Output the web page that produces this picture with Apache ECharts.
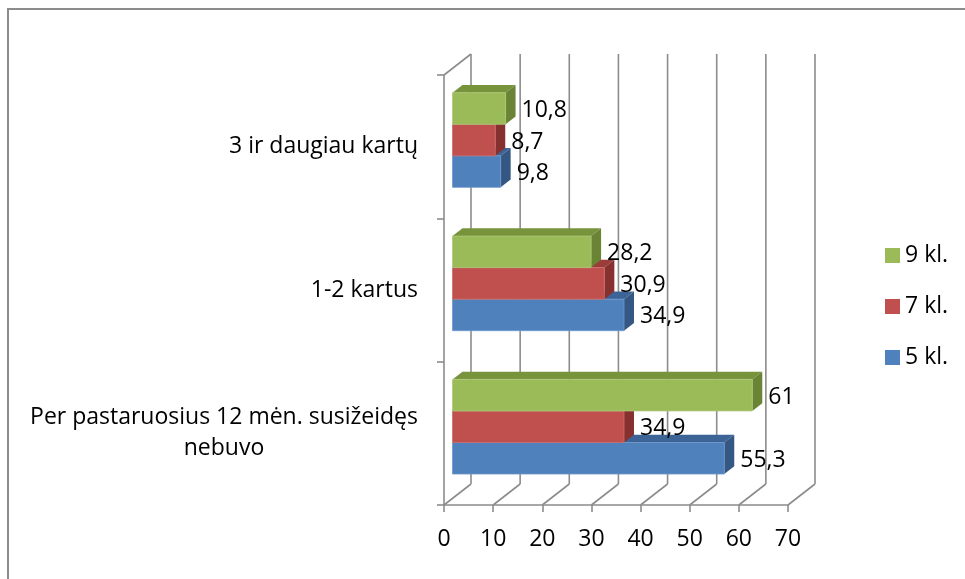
<!DOCTYPE html>
<html>
<head>
<meta charset="utf-8">
<title>Susižeidimai per pastaruosius 12 mėn.</title>
<script src="https://cdn.jsdelivr.net/npm/echarts@6/dist/echarts.min.js"></script>
<style>
  html, body { margin: 0; padding: 0; background: #fff; }
  #chart { width: 965px; height: 579px; }
</style>
</head>
<body>
<div id="chart"></div>
<script>
// Categories, bottom to top on the vertical axis
var categories = [
  'Per pastaruosius 12 mėn. susižeidęs\nnebuvo',
  '1-2 kartus',
  '3 ir daugiau kartų'
];
// Shares (%) per grade, in category order
var grade5 = [55.3, 34.9, 9.8];
var grade7 = [34.9, 30.9, 8.7];
var grade9 = [61, 28.2, 10.8];
var seriesNames = ['5 kl.', '7 kl.', '9 kl.'];
var xTicks = [0, 10, 20, 30, 40, 50, 60, 70];

// Pseudo-3D look: depth of the box walls in pixels, and where the bars sit in it
var DEPTH_X = 27, DEPTH_Y = -21;
var BAR_DEPTH = 0.37;        // bar thickness as share of the box depth
var BAR_OFFSET = 0.315;      // bar front plane as share of the box depth
var BAR_SHARE = 0.22;        // bar height as share of the category band
var WALL_COLOR = '#8c8c8c';
var WALL_WIDTH = 1.6;
var FONT = '"Open Sans", "Noto Sans", sans-serif';
var FONT_SIZE = 23;

var palettes = {
  '5 kl.': { front: '#4F81BD', top: '#3C6496', side: '#345783', edge: '#6f97c9' },
  '7 kl.': { front: '#C0504D', top: '#9A3D3A', side: '#863130', edge: '#cc6f6c' },
  '9 kl.': { front: '#9BBB59', top: '#77933C', side: '#6A8436', edge: '#afc97a' }
};

function fmt(v) {
  return String(v).replace('.', ',');
}

function barRenderer(slot, pal) {
  return function (params, api) {
    var val = api.value(0);
    var cat = api.value(1);
    var base = api.coord([0, cat]);
    var end = api.coord([val, cat]);
    var band = api.size([0, 1])[1];
    var th = band * BAR_SHARE;
    var dx = DEPTH_X * BAR_DEPTH, dy = DEPTH_Y * BAR_DEPTH;
    var ox = DEPTH_X * BAR_OFFSET, oy = DEPTH_Y * BAR_OFFSET;
    var yc = base[1] + slot * th + oy;
    var x0 = base[0] + ox, x1 = end[0] + ox;
    var yt = yc - th / 2, yb = yc + th / 2;
    return {
      type: 'group',
      children: [
        {
          type: 'polygon',
          shape: { points: [[x0, yt], [x1, yt], [x1 + dx, yt + dy], [x0 + dx, yt + dy]] },
          style: { fill: pal.top }
        },
        {
          type: 'polygon',
          shape: { points: [[x1, yt], [x1 + dx, yt + dy], [x1 + dx, yb + dy], [x1, yb]] },
          style: { fill: pal.side }
        },
        {
          type: 'rect',
          shape: { x: x0, y: yt, width: x1 - x0, height: th },
          style: { fill: pal.front, stroke: pal.edge, lineWidth: 0.8 }
        },
        {
          type: 'text',
          style: {
            text: fmt(val),
            x: x1 + dx + 6,
            y: yc + 2,
            fill: '#000',
            font: FONT_SIZE + 'px ' + FONT,
            align: 'left',
            verticalAlign: 'middle'
          }
        }
      ]
    };
  };
}

function wallRenderer(params, api) {
  var v = api.value(0);
  var cs = params.coordSys;
  var xf = api.coord([v, 0])[0];
  var yBottom = cs.y + cs.height;
  var yTop = cs.y;
  var ls = { stroke: WALL_COLOR, lineWidth: WALL_WIDTH };
  var children = [
    { type: 'line', shape: { x1: xf, y1: yBottom, x2: xf + DEPTH_X, y2: yBottom + DEPTH_Y }, style: ls },
    { type: 'line', shape: { x1: xf + DEPTH_X, y1: yBottom + DEPTH_Y, x2: xf + DEPTH_X, y2: yTop + DEPTH_Y }, style: ls }
  ];
  if (v === 0) {
    children.push({ type: 'line', shape: { x1: xf, y1: yTop, x2: xf + DEPTH_X, y2: yTop + DEPTH_Y }, style: ls });
  }
  return { type: 'group', children: children };
}

function toPoints(values) {
  return values.map(function (v, i) { return [v, i]; });
}

var seriesData = { '5 kl.': grade5, '7 kl.': grade7, '9 kl.': grade9 };
var slots = { '5 kl.': 1, '7 kl.': 0, '9 kl.': -1 };

var series = [{
  name: 'wall',
  type: 'custom',
  renderItem: wallRenderer,
  data: xTicks.map(function (v) { return [v, 0]; }),
  encode: { x: 0, y: 1 },
  clip: false,
  silent: true,
  z: 1
}];
seriesNames.forEach(function (name, i) {
  series.push({
    name: name,
    type: 'custom',
    renderItem: barRenderer(slots[name], palettes[name]),
    data: toPoints(seriesData[name]),
    encode: { x: 0, y: 1 },
    itemStyle: { color: palettes[name].front },
    clip: false,
    z: 3 + i
  });
});

var chart = echarts.init(document.getElementById('chart'), null, { renderer: 'canvas' });
chart.setOption({
  animation: false,
  backgroundColor: '#ffffff',
  grid: { left: 444, right: 177, top: 75, bottom: 74, outerBoundsMode: 'none', containLabel: false },
  xAxis: {
    type: 'value',
    min: 0,
    max: 70,
    interval: 10,
    splitLine: { show: false },
    axisLine: { show: true, lineStyle: { color: WALL_COLOR, width: WALL_WIDTH } },
    axisTick: { show: true, length: 7, lineStyle: { color: WALL_COLOR, width: WALL_WIDTH } },
    axisLabel: { margin: 23, color: '#000', fontSize: FONT_SIZE, fontFamily: FONT }
  },
  yAxis: {
    type: 'category',
    data: categories,
    axisLine: { show: true, lineStyle: { color: WALL_COLOR, width: WALL_WIDTH } },
    axisTick: { show: true, length: 7, lineStyle: { color: WALL_COLOR, width: WALL_WIDTH } },
    axisLabel: {
      margin: 26,
      color: '#000',
      fontSize: FONT_SIZE,
      fontFamily: FONT,
      lineHeight: 31,
      formatter: function (v) {
        return v.split('\n').map(function (l) { return '{c|' + l + '}'; }).join('\n');
      },
      rich: { c: { align: 'center', fontSize: FONT_SIZE, fontFamily: FONT, lineHeight: 31, color: '#000' } }
    }
  },
  legend: {
    data: ['9 kl.', '7 kl.', '5 kl.'],
    orient: 'vertical',
    left: 880,
    top: 239,
    itemWidth: 15,
    itemHeight: 15,
    itemGap: 28,
    icon: 'rect',
    textStyle: { fontSize: FONT_SIZE, fontFamily: FONT, color: '#000', lineHeight: 20 }
  },
  graphic: [{
    type: 'rect',
    silent: true,
    shape: { x: 8, y: 9, width: 2000, height: 2000 },
    style: { fill: 'none', stroke: '#8c8c8c', lineWidth: 2 }
  }],
  series: series
});
</script>
</body>
</html>
